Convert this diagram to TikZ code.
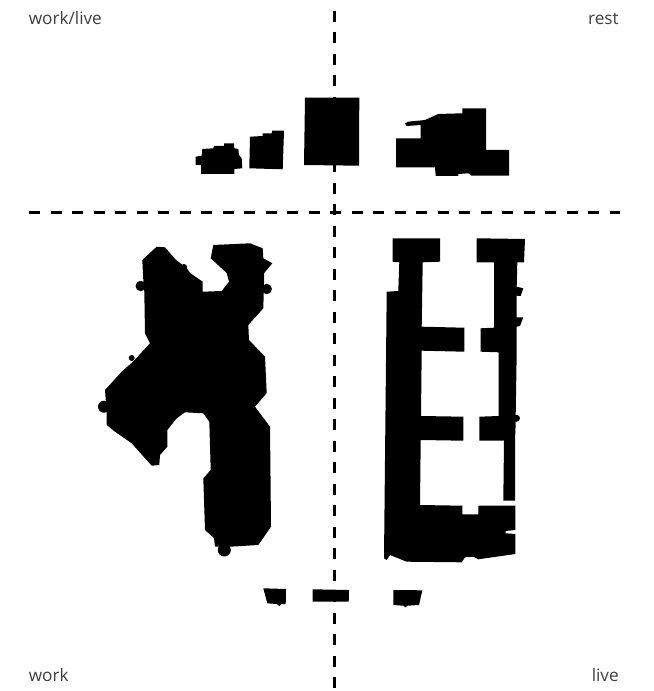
\documentclass[tikz,border=0pt]{standalone}
\usepackage{fontspec}
\setmainfont{Open Sans}
\usepackage{xcolor}
\definecolor{lblgray}{gray}{0.25}
\tikzset{
  mass/.style={fill=black, draw=none},
  axis/.style={draw=black, line width=2.3pt, dash pattern=on 8.25pt off 7.875pt},
  lbl/.style={font=\fontsize{12.9}{15}\selectfont, text=lblgray, inner sep=0pt}
}
\begin{document}
\begin{tikzpicture}[x=0.75pt, y=-0.75pt]
  \useasboundingbox (0,0) rectangle (653,691);
  \fill[white] (0,0) rectangle (653,691);
  \coordinate (vtop) at (334.2,10.7);
  \coordinate (vbot) at (334.2,690);
  \coordinate (hleft) at (29,212.5);
  \coordinate (hright) at (620,212.5);
  \draw[axis] (vtop) -- (vbot);
  \draw[axis] (hleft) -- (hright);
  \node[lbl, anchor=base west] (worklive) at (28.5,25) {work/live};
  \node[lbl, anchor=base east] (rest) at (619,25) {rest};
  \node[lbl, anchor=base west] (work) at (28.5,681) {work};
  \node[lbl, anchor=base east] (live) at (619,681) {live};
  % upper row
  \fill[mass] (195.7,156.7) -- (201.7,155.7) -- (202.3,149) -- (213.3,148.3) -- (214,146) -- (224,146) -- (224,143.3) -- (234,143.3) -- (234.3,148.3) -- (238.3,149) -- (239,155) -- (241.7,158.3) -- (242.3,168.3) -- (234.3,169) -- (234.3,174) -- (201,174) -- (201,165) -- (195.7,165) -- cycle;
  \fill[mass] (250,136.7) -- (262.7,136) -- (262.7,133.3) -- (271.7,133.3) -- (272.3,130.7) -- (284,130.7) -- (282.7,169.3) -- (249.3,168.3) -- cycle;
  \fill[mass] (305,97.7) -- (359.3,97.7) -- (359,165.7) -- (304,165) -- cycle;
  \fill[mass] (396,138.3) -- (420.7,138.3) -- (420.7,125) -- (406.7,126) -- (404.7,123.3) -- (408.3,121.7) -- (425,120) -- (438.3,114) -- (462.3,113.3) -- (462.3,108.3) -- (486,108.3) -- (486,150) -- (509,150) -- (509,175.7) -- (471.7,175.7) -- (468.3,173.3) -- (458.3,174) -- (458.3,176) -- (435.7,176) -- (435,167.3) -- (396,167.3) -- cycle;
  % left block
  \fill[mass] (142.3,260) -- (156.7,246.7) -- (165,247.3) -- (176,260) -- (186.7,268) -- (190,273) -- (202.7,281.7) -- (202.7,291.7) -- (221.7,291) -- (229,281.7) -- (226.7,273) -- (210.7,258.3) -- (213.3,245) -- (250,243.3) -- (262.7,248.3) -- (263.3,258.3) -- (272.3,263.3) -- (264,273.3) -- (264,282.7) -- (263.3,308.3) -- (248.3,325) -- (249,340) -- (265,356.7) -- (266.7,393) -- (255,406.7) -- (270,426.7) -- (271,526.7) -- (258.3,545) -- (230,546.7) -- (215,546.7) -- (214,538) -- (205,530) -- (203.3,478.3) -- (210.7,470) -- (209.3,421.7) -- (203.3,413.3) -- (185,412.3) -- (176.7,418.3) -- (167.3,430) -- (167.3,446.7) -- (160,455) -- (159.3,465) -- (151.7,465.7) -- (131.7,443.3) -- (115,431.7) -- (106.7,425) -- (106.7,413) -- (105,390) -- (121.7,371.7) -- (133,361.7) -- (150,343.3) -- (145,333.3) -- (144.3,291.7) -- (143.3,280) -- cycle;
  \fill[mass] (266.7,289) circle (5.2);
  \fill[mass] (140.7,286) circle (5.2);
  \fill[mass] (104,406.7) circle (6);
  \fill[mass] (224.3,550) circle (6.5);
  \fill[mass] (131.7,358) circle (3);
  \fill[mass] (184,267) circle (3);
  % right block
  \fill[mass] (392.7,238.3) -- (440,238.3) -- (440,261.7) -- (422.7,262.3) -- (421.7,326.7) -- (464.3,327.7) -- (464.3,351.7) -- (421.7,350.7) -- (421,416) -- (463.3,416.7) -- (463.3,440.7) -- (420.7,440) -- (420,505) -- (462.3,505.7) -- (462.3,514.3) -- (478.3,514.3) -- (478.3,505.7) -- (515.3,505.7) -- (515.3,530) -- (505.7,531) -- (505.7,533.3) -- (515.3,534) -- (515.3,554) -- (478.3,559.3) -- (473.3,556.7) -- (465,557.3) -- (461.7,562.3) -- (406.7,561.7) -- (390,555) -- (386.7,560) -- (384,558.3) -- (386.7,291.7) -- (398.3,291) -- (399.3,262.3) -- (392.7,261.7) -- cycle;
  \fill[mass] (476.7,238.3) -- (525,239) -- (524,262.3) -- (517.3,262.3) -- (516.7,286.7) -- (523.3,288.3) -- (520.7,296) -- (516.7,295.7) -- (516.7,317.3) -- (523.3,317.3) -- (520,326) -- (516.7,326.7) -- (516.7,351.7) -- (515.7,414.3) -- (515.7,422.3) -- (515,440.7) -- (515,500.7) -- (503.3,500.7) -- (504,440.7) -- (479.3,440.7) -- (479.3,416.7) -- (498.7,416) -- (498.7,352.3) -- (480.7,351.7) -- (480.7,328.3) -- (494,327.7) -- (494,262.3) -- (476.7,262.3) -- cycle;
  \fill[mass] (516.5,418.3) circle (3.5);
  % lower row
  \fill[mass] (263.3,588.3) -- (286,589) -- (285.7,604) -- (281.7,604) -- (279.3,606) -- (276.7,604) -- (267.3,603.3) -- cycle;
  \fill[mass] (312.7,589.3) -- (349,590) -- (348.7,601.7) -- (312.7,601.7) -- cycle;
  \fill[mass] (393.3,590) -- (422.3,590.3) -- (419,605) -- (407.3,605.7) -- (405.3,607.3) -- (403.3,605.7) -- (393.3,605) -- cycle;
\end{tikzpicture}
\end{document}
